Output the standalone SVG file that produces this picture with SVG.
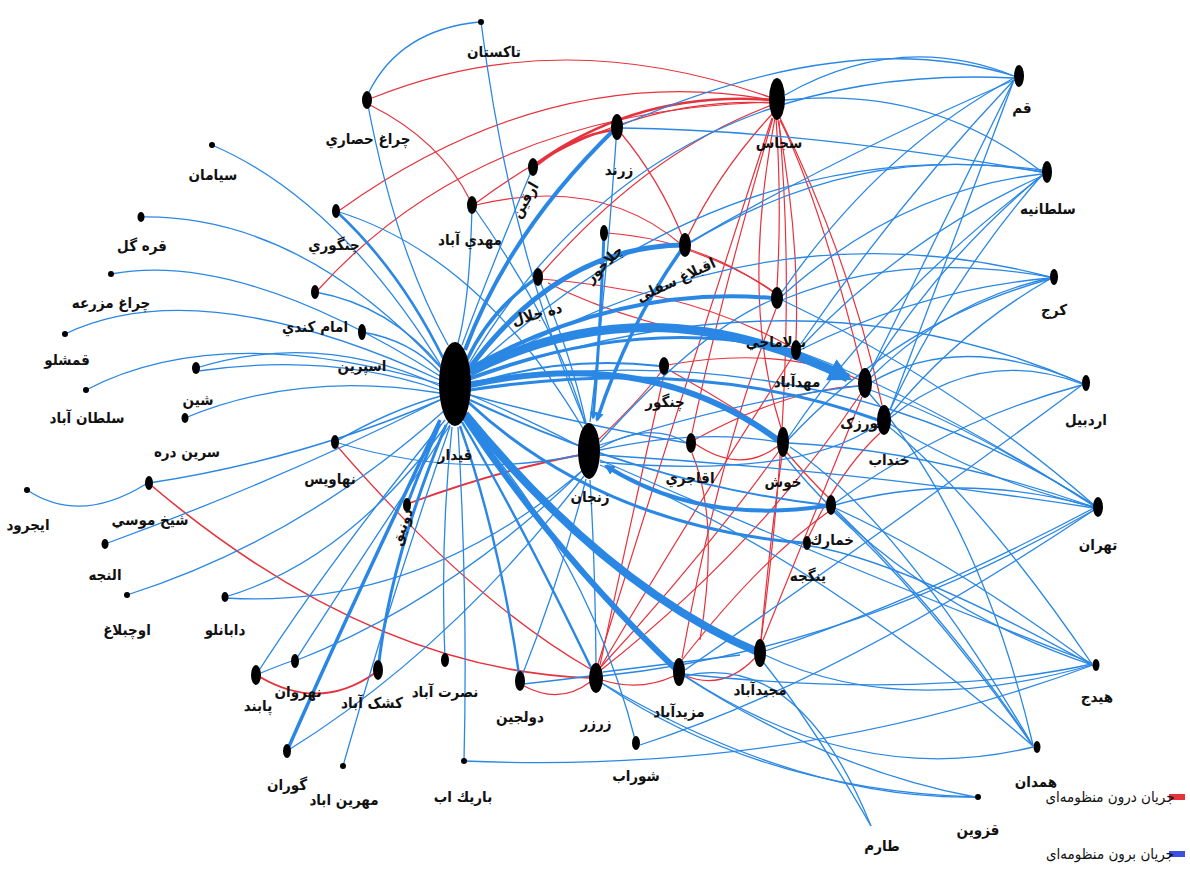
<svg xmlns="http://www.w3.org/2000/svg" width="1190" height="870" viewBox="0 0 1190 870">
<style>
.b{fill:none;stroke:#2a87e4;stroke-width:1.3}
.r{fill:none;stroke:#e6323c;stroke-width:1.2}
.n{fill:#000}
.t{font-family:"DejaVu Sans Condensed","DejaVu Sans",sans-serif;font-weight:bold;font-size:15px;fill:#111;text-anchor:middle}
.lg{font-family:"DejaVu Sans Condensed","DejaVu Sans",sans-serif;font-size:15px;fill:#111;text-anchor:middle}
</style>
<defs>
<marker id="ab" viewBox="0 0 10 10" refX="8" refY="5" markerWidth="2.6" markerHeight="2.6" orient="auto" markerUnits="strokeWidth"><path d="M0,0 L10,5 L0,10 z" fill="#2a87e4"/></marker>
</defs>
<rect width="1190" height="870" fill="#fff"/>
<g id="connectors">
<g id="red-edges">
<path class="r" d="M372,98 Q560,22 772,98"/>
<path class="r" d="M340,210 Q550,60 772,100"/>
<path class="r" d="M318,290 Q480,110 772,102"/>
<path class="r" d="M476,203 Q620,95 772,103"/>
<path class="r" d="M537,163 Q640,90 772,100" style="stroke-width:2.6"/>
<path class="r" d="M537,165 Q575,135 613,130" style="stroke-width:2.4"/>
<path class="r" d="M542,273 Q650,150 772,105"/>
<path class="r" d="M370,105 Q440,140 470,200"/>
<path class="r" d="M476,205 Q600,175 682,245"/>
<path class="r" d="M620,132 Q660,180 683,238"/>
<path class="r" d="M774,112 Q720,170 688,236"/>
<path class="r" d="M776,118 Q782,200 777,288"/>
<path class="r" d="M778,120 Q800,240 796,340"/>
<path class="r" d="M780,118 Q850,260 882,405"/>
<path class="r" d="M775,118 Q740,300 781,428"/>
<path class="r" d="M772,118 Q680,400 598,664"/>
<path class="r" d="M773,118 Q720,300 692,433"/>
<path class="r" d="M607,233 Q700,240 773,292"/>
<path class="r" d="M688,250 Q740,268 774,292"/>
<path class="r" d="M541,279 Q690,290 793,348"/>
<path class="r" d="M667,365 Q780,345 860,380"/>
<path class="r" d="M694,443 Q740,475 778,446"/>
<path class="r" d="M694,440 Q790,388 860,386"/>
<path class="r" d="M598,440 Q640,400 661,372"/>
<path class="r" d="M410,503 Q500,470 580,455" style="stroke-width:1.8"/>
<path class="r" d="M337,446 Q470,600 592,670"/>
<path class="r" d="M152,486 Q370,670 590,678" style="stroke-width:1.6"/>
<path class="r" d="M260,677 Q320,712 375,673" style="stroke-width:2"/>
<path class="r" d="M524,686 Q560,705 590,682"/>
<path class="r" d="M600,668 Q700,500 793,356"/>
<path class="r" d="M600,668 Q700,560 779,451"/>
<path class="r" d="M601,670 Q760,545 862,392"/>
<path class="r" d="M602,680 Q640,692 674,676"/>
<path class="r" d="M684,675 Q722,692 755,658"/>
<path class="r" d="M761,640 Q770,540 782,456"/>
<path class="r" d="M763,640 Q820,500 862,397"/>
<path class="r" d="M682,660 Q760,560 828,512"/>
<path class="r" d="M808,538 Q840,470 880,433"/>
<path class="r" d="M682,658 Q720,450 776,309"/>
<path class="r" d="M761,640 Q800,350 779,121"/>
<path class="r" d="M862,370 Q820,200 780,120"/>
<path class="r" d="M783,448 Q810,480 829,498"/>
<path class="r" d="M669,370 Q740,410 778,438"/>
<path class="r" d="M548,283 Q640,330 790,350"/>
<path class="r" d="M600,665 Q640,480 664,375"/>
<path class="r" d="M700,640 Q720,520 692,453"/>
</g>
<g id="blue-edges">
<path class="b" d="M212,145 Q340,200 445,372"/>
<path class="b" d="M141,217 Q300,215 441,368"/>
<path class="b" d="M111,274 Q240,250 440,376"/>
<path class="b" d="M65,334 Q200,270 440,380"/>
<path class="b" d="M86,390 Q220,320 440,384"/>
<path class="b" d="M196,368 Q320,330 440,386"/>
<path class="b" d="M198,371 Q330,352 440,390"/>
<path class="b" d="M185,418 Q300,370 440,393"/>
<path class="b" d="M315,292 Q390,305 442,368"/>
<path class="b" d="M362,332 Q410,340 440,372"/>
<path class="b" d="M336,211 Q400,270 444,360" style="stroke-width:2.6"/>
<path class="b" d="M336,211 Q480,255 584,430"/>
<path class="b" d="M367,100 Q395,250 448,345"/>
<path class="b" d="M481,22 Q510,250 586,424"/>
<path class="b" d="M479,22 Q400,30 369,92"/>
<path class="b" d="M105,544 Q280,480 440,400"/>
<path class="b" d="M127,595 Q300,540 445,410"/>
<path class="b" d="M225,597 Q350,560 450,420"/>
<path class="b" d="M225,598 Q420,610 583,470"/>
<path class="b" d="M27,490 Q80,525 146,484"/>
<path class="b" d="M149,483 Q300,460 440,400" style="stroke-width:1.6"/>
<path class="b" d="M335,442 Q390,410 441,396"/>
<path class="b" d="M335,442 Q460,480 580,455"/>
<path class="b" d="M256,675 Q330,560 445,420"/>
<path class="b" d="M256,675 Q280,665 292,661"/>
<path class="b" d="M295,661 Q360,560 450,425"/>
<path class="b" d="M295,661 Q450,600 583,470"/>
<path class="b" d="M378,670 Q390,560 446,425" style="stroke-width:3"/>
<path class="b" d="M287,751 Q340,630 440,420" style="stroke-width:3.5"/>
<path class="b" d="M287,751 Q450,650 584,476"/>
<path class="b" d="M343,766 Q390,600 450,426"/>
<path class="b" d="M445,660 Q440,540 452,427"/>
<path class="b" d="M464,761 Q468,600 458,427"/>
<path class="b" d="M464,761 Q800,775 1093,665"/>
<path class="b" d="M520,681 Q500,540 460,426" style="stroke-width:2.4"/>
<path class="b" d="M520,681 Q560,580 586,479"/>
<path class="b" d="M596,678 Q520,520 462,422" style="stroke-width:2.4"/>
<path class="b" d="M596,664 Q595,560 590,480"/>
<path class="b" d="M636,743 Q590,560 465,420"/>
<path class="b" d="M679,672 Q560,560 465,418" style="stroke-width:6"/>
<path class="b" d="M760,653 Q610,590 465,414" style="stroke-width:8"/>
<path class="b" d="M523,684 Q560,680 590,676"/>
<path class="b" d="M603,672 Q660,665 740,655"/>
<path class="b" d="M603,684 Q760,790 975,797"/>
<path class="b" d="M472,205 Q470,300 458,343"/>
<path class="b" d="M533,167 Q490,270 462,345"/>
<path class="b" d="M617,127 Q510,230 465,350" style="stroke-width:4"/>
<path class="b" d="M604,233 Q600,340 593,418" style="stroke-width:3" marker-end="url(#ab)"/>
<path class="b" d="M617,127 Q605,300 590,422"/>
<path class="b" d="M538,277 Q490,310 467,360" style="stroke-width:3.5"/>
<path class="b" d="M685,245 Q560,245 468,370" style="stroke-width:5"/>
<path class="b" d="M685,245 Q630,320 597,420" style="stroke-width:3.5" marker-end="url(#ab)"/>
<path class="b" d="M538,277 Q570,350 586,423"/>
<path class="b" d="M472,205 Q560,330 585,424"/>
<path class="b" d="M470,372 Q650,280 848,378" style="stroke-width:9" marker-end="url(#ab)"/>
<path class="b" d="M470,368 Q620,285 772,298" style="stroke-width:4"/>
<path class="b" d="M470,378 Q640,315 792,350" style="stroke-width:3"/>
<path class="b" d="M470,385 Q650,345 778,440" style="stroke-width:6"/>
<path class="b" d="M470,385 Q560,355 660,366" style="stroke-width:2"/>
<path class="b" d="M470,390 Q700,355 878,420" style="stroke-width:3"/>
<path class="b" d="M470,395 Q580,425 687,443" style="stroke-width:1.5"/>
<path class="b" d="M470,395 Q530,420 579,446"/>
<path class="b" d="M470,400 Q650,485 826,505" style="stroke-width:2"/>
<path class="b" d="M826,506 Q700,525 606,466" style="stroke-width:4" marker-end="url(#ab)"/>
<path class="b" d="M803,543 Q600,525 468,402" style="stroke-width:3"/>
<path class="b" d="M407,505 Q420,470 440,424" style="stroke-width:3"/>
<path class="b" d="M470,380 Q800,260 1082,383"/>
<path class="b" d="M470,382 Q820,330 1094,505"/>
<path class="b" d="M470,376 Q760,200 1050,277"/>
<path class="b" d="M470,372 Q730,130 1042,170"/>
<path class="b" d="M468,365 Q650,60 1014,78"/>
<path class="b" d="M600,445 Q740,400 858,386"/>
<path class="b" d="M600,455 Q850,470 1094,508"/>
<path class="b" d="M600,460 Q850,570 1092,663"/>
<path class="b" d="M600,450 Q700,428 777,442"/>
<path class="b" d="M600,448 Q650,420 687,443"/>
<path class="b" d="M600,442 Q700,330 772,300"/>
<path class="b" d="M600,462 Q800,480 878,424"/>
<path class="b" d="M600,465 Q820,560 1033,746"/>
<path class="b" d="M1014,76 Q900,30 785,95"/>
<path class="b" d="M1014,76 Q850,25 622,125"/>
<path class="b" d="M1014,80 Q950,250 890,410"/>
<path class="b" d="M1014,80 Q940,230 870,372"/>
<path class="b" d="M1014,80 Q900,200 800,345"/>
<path class="b" d="M1014,78 Q880,150 782,292"/>
<path class="b" d="M1014,80 Q830,160 690,242"/>
<path class="b" d="M785,100 Q930,85 1042,172"/>
<path class="b" d="M1042,172 Q860,140 690,243"/>
<path class="b" d="M1042,174 Q900,190 782,296"/>
<path class="b" d="M1042,175 Q950,280 890,410"/>
<path class="b" d="M1042,175 Q940,260 870,372"/>
<path class="b" d="M1042,176 Q900,240 800,348"/>
<path class="b" d="M1042,176 Q880,300 788,438"/>
<path class="b" d="M1042,172 Q800,130 622,128"/>
<path class="b" d="M1050,277 Q900,250 782,300"/>
<path class="b" d="M1050,278 Q950,300 870,378"/>
<path class="b" d="M1050,279 Q960,330 890,415"/>
<path class="b" d="M1050,279 Q900,320 788,440"/>
<path class="b" d="M1050,278 Q920,290 800,350"/>
<path class="b" d="M1082,383 Q960,330 870,383"/>
<path class="b" d="M1082,384 Q980,345 890,418"/>
<path class="b" d="M1082,385 Q950,420 835,503"/>
<path class="b" d="M1082,385 Q900,520 685,670"/>
<path class="b" d="M1094,506 Q960,420 870,390"/>
<path class="b" d="M1094,507 Q980,480 890,424"/>
<path class="b" d="M1094,507 Q960,470 835,505"/>
<path class="b" d="M1094,505 Q950,380 782,300"/>
<path class="b" d="M1094,506 Q930,400 800,352"/>
<path class="b" d="M1094,507 Q930,450 788,443"/>
<path class="b" d="M1094,508 Q920,600 765,651"/>
<path class="b" d="M1094,510 Q850,650 602,676"/>
<path class="b" d="M1092,665 Q950,560 835,508"/>
<path class="b" d="M1092,665 Q900,720 765,655"/>
<path class="b" d="M1092,664 Q980,500 888,426"/>
<path class="b" d="M1092,664 Q930,700 683,674"/>
<path class="b" d="M1033,746 Q930,600 833,511"/>
<path class="b" d="M1033,747 Q860,790 685,676"/>
<path class="b" d="M1033,745 Q980,520 868,392"/>
<path class="b" d="M1033,746 Q900,520 790,447"/>
<path class="b" d="M975,797 Q800,800 600,682"/>
<path class="b" d="M975,797 Q830,770 684,676"/>
<path class="b" d="M871,826 Q810,720 763,662"/>
<path class="b" d="M871,826 Q800,650 684,676"/>
<path class="b" d="M836,510 Q950,620 1033,746"/>
<path class="b" d="M784,455 Q900,600 1092,665"/>
<path class="b" d="M810,546 Q900,560 1092,665"/>
<path class="b" d="M640,745 Q840,680 1094,510"/>
</g>
</g>
<g id="n-gheydar"><ellipse class="n" cx="455" cy="384" rx="16" ry="42"/><text class="t" x="455" y="460">قیدار</text></g>
<g id="n-zanjan"><ellipse class="n" cx="589" cy="451" rx="11" ry="28"/><text class="t" x="590" y="502">زنجان</text></g>
<g id="n-sojas"><ellipse class="n" cx="777" cy="99" rx="8" ry="21"/><text class="t" x="779" y="148">سجاس</text></g>
<g id="n-takestan"><circle class="n" cx="481" cy="22" r="3"/><text class="t" x="494" y="57">تاکستان</text></g>
<g id="n-cheraghhesari"><ellipse class="n" cx="367" cy="100" rx="5" ry="9"/><text class="t" x="368" y="144">چراغ حصاري</text></g>
<g id="n-siaman"><circle class="n" cx="212" cy="145" r="3"/><text class="t" x="213" y="180">سیامان</text></g>
<g id="n-gharegol"><ellipse class="n" cx="141" cy="217" rx="3.5" ry="5"/><text class="t" x="142" y="251">قره گل</text></g>
<g id="n-cheraghmazrae"><circle class="n" cx="111" cy="274" r="3"/><text class="t" x="111" y="308">چراغ مزرعه</text></g>
<g id="n-ghameshlu"><circle class="n" cx="65" cy="334" r="3"/><text class="t" x="67" y="365">قمشلو</text></g>
<g id="n-soltanabad"><circle class="n" cx="86" cy="390" r="3"/><text class="t" x="87" y="423">سلطان آباد</text></g>
<g id="n-shin"><ellipse class="n" cx="196" cy="368" rx="4" ry="6"/><text class="t" x="198" y="405">شین</text></g>
<g id="n-sarindare"><ellipse class="n" cx="185" cy="418" rx="3.5" ry="5"/><text class="t" x="187" y="457">سرين دره</text></g>
<g id="n-changuri"><ellipse class="n" cx="336" cy="211" rx="4" ry="7"/><text class="t" x="334" y="250">چنگوري</text></g>
<g id="n-emamkandi"><ellipse class="n" cx="315" cy="292" rx="4" ry="7"/><text class="t" x="315" y="332">امام كندي</text></g>
<g id="n-esperin"><ellipse class="n" cx="362" cy="332" rx="4" ry="8"/><text class="t" x="362" y="371">اسپرین</text></g>
<g id="n-mahdiabad"><ellipse class="n" cx="472" cy="205" rx="5" ry="9"/><text class="t" x="470" y="245">مهدي آباد</text></g>
<g id="n-arghin"><ellipse class="n" cx="533" cy="167" rx="5" ry="9"/><text class="t" transform="translate(525,200) rotate(-60)" y="5">ارقین</text></g>
<g id="n-zarand"><ellipse class="n" cx="617" cy="127" rx="6" ry="13"/><text class="t" x="619" y="175">زرند</text></g>
<g id="n-chalakhur"><ellipse class="n" cx="604" cy="233" rx="4" ry="8"/><text class="t" transform="translate(604,264) rotate(-45)" y="5">چلاخور</text></g>
<g id="n-aghbolagh"><ellipse class="n" cx="685" cy="245" rx="6" ry="12"/><text class="t" transform="translate(676,280) rotate(-25)" y="5">اقبلاغ سفلی</text></g>
<g id="n-dehjalal"><ellipse class="n" cx="538" cy="277" rx="5" ry="9"/><text class="t" transform="translate(537,314) rotate(-15)" y="5">ده جلال</text></g>
<g id="n-bolamaji"><ellipse class="n" cx="777" cy="298" rx="6" ry="11"/><text class="t" x="776" y="347">بولاماجي</text></g>
<g id="n-mohdabad"><ellipse class="n" cx="796" cy="350" rx="5" ry="10"/><text class="t" x="797" y="387">مهدآباد</text></g>
<g id="n-chavarzak"><ellipse class="n" cx="865" cy="383" rx="7" ry="15"/><text class="t" x="864" y="428">چورزک</text></g>
<g id="n-khandab"><ellipse class="n" cx="884" cy="420" rx="7" ry="15"/><text class="t" x="889" y="465">خنداب</text></g>
<g id="n-changur"><ellipse class="n" cx="664" cy="366" rx="5" ry="9"/><text class="t" x="665" y="407">چنگور</text></g>
<g id="n-aghajari"><ellipse class="n" cx="691" cy="443" rx="5" ry="10"/><text class="t" x="690" y="483">اقاجري</text></g>
<g id="n-khosh"><ellipse class="n" cx="783" cy="442" rx="6" ry="15"/><text class="t" x="783" y="487">خوش</text></g>
<g id="n-khomarak"><ellipse class="n" cx="831" cy="505" rx="5" ry="10"/><text class="t" x="832" y="545">خمارك</text></g>
<g id="n-yengjeh"><ellipse class="n" cx="807" cy="543" rx="4" ry="7"/><text class="t" x="808" y="581">ینگجه</text></g>
<g id="n-nahavis"><ellipse class="n" cx="335" cy="442" rx="4" ry="7"/><text class="t" x="330" y="484">نهاويس</text></g>
<g id="n-sheikhmusa"><ellipse class="n" cx="149" cy="483" rx="4" ry="7"/><text class="t" x="150" y="525">شیخ موسي</text></g>
<g id="n-ijrud"><circle class="n" cx="27" cy="490" r="3"/><text class="t" x="28" y="530">ایجرود</text></g>
<g id="n-alanjeh"><ellipse class="n" cx="105" cy="544" rx="3.5" ry="5"/><text class="t" x="105" y="580">النجه</text></g>
<g id="n-uchbolagh"><circle class="n" cx="127" cy="595" r="3"/><text class="t" x="127" y="635">اوچبلاغ</text></g>
<g id="n-dabanlu"><ellipse class="n" cx="225" cy="597" rx="3.5" ry="5"/><text class="t" x="225" y="635">دابانلو</text></g>
<g id="n-dunigh"><ellipse class="n" cx="407" cy="505" rx="4" ry="7"/><text class="t" transform="translate(402,527) rotate(-70)" y="5">دونيق</text></g>
<g id="n-paband"><ellipse class="n" cx="256" cy="675" rx="5" ry="10"/><text class="t" x="258" y="711">پابند</text></g>
<g id="n-nahravan"><ellipse class="n" cx="295" cy="661" rx="4" ry="7"/><text class="t" x="298" y="697">نهروان</text></g>
<g id="n-kashkabad"><ellipse class="n" cx="378" cy="670" rx="5" ry="10"/><text class="t" x="372" y="708">کشک آباد</text></g>
<g id="n-goran"><ellipse class="n" cx="287" cy="751" rx="4" ry="7"/><text class="t" x="287" y="790">گوران</text></g>
<g id="n-mehrinabad"><circle class="n" cx="343" cy="766" r="3"/><text class="t" x="344" y="805">مهرین اباد</text></g>
<g id="n-nosratabad"><ellipse class="n" cx="445" cy="660" rx="4" ry="7"/><text class="t" x="445" y="697">نصرت آباد</text></g>
<g id="n-barikab"><circle class="n" cx="464" cy="761" r="3"/><text class="t" x="463" y="802">باريك اب</text></g>
<g id="n-dolajin"><ellipse class="n" cx="520" cy="681" rx="5" ry="10"/><text class="t" x="520" y="722">دولجين</text></g>
<g id="n-zarzar"><ellipse class="n" cx="596" cy="678" rx="7" ry="15"/><text class="t" x="596" y="728">زرزر</text></g>
<g id="n-shurab"><ellipse class="n" cx="636" cy="743" rx="4" ry="7"/><text class="t" x="636" y="781">شوراب</text></g>
<g id="n-mazidabad"><ellipse class="n" cx="679" cy="672" rx="6" ry="14"/><text class="t" x="679" y="717">مزيدآباد</text></g>
<g id="n-majidabad"><ellipse class="n" cx="760" cy="653" rx="6" ry="14"/><text class="t" x="760" y="695">مجیدآباد</text></g>
<g id="n-qom"><ellipse class="n" cx="1019" cy="76" rx="5" ry="11"/><text class="t" x="1022" y="113">قم</text></g>
<g id="n-soltanieh"><ellipse class="n" cx="1047" cy="172" rx="5" ry="11"/><text class="t" x="1048" y="214">سلطانیه</text></g>
<g id="n-karaj"><ellipse class="n" cx="1054" cy="277" rx="4" ry="8"/><text class="t" x="1054" y="315">کرج</text></g>
<g id="n-ardabil"><ellipse class="n" cx="1086" cy="383" rx="4" ry="8"/><text class="t" x="1086" y="425">اردبیل</text></g>
<g id="n-tehran"><ellipse class="n" cx="1098" cy="507" rx="5" ry="10"/><text class="t" x="1098" y="550">تهران</text></g>
<g id="n-hidaj"><ellipse class="n" cx="1096" cy="665" rx="3.5" ry="6"/><text class="t" x="1097" y="702">هیدج</text></g>
<g id="n-hamedan"><ellipse class="n" cx="1037" cy="747" rx="3.5" ry="6"/><text class="t" x="1036" y="787">همدان</text></g>
<g id="n-qazvin"><circle class="n" cx="978" cy="797" r="3"/><text class="t" x="978" y="835">قزوین</text></g>
<g id="n-tarom"><text class="t" x="882" y="851">طارم</text></g>
<g id="legend">
<rect x="1169" y="794" width="16" height="6" fill="#e6323c"/>
<text class="lg" x="1110" y="802">جریان درون منظومه‌ای</text>
<rect x="1169" y="851" width="16" height="6" fill="#3b4fe0"/>
<text class="lg" x="1110" y="859">جریان برون منظومه‌ای</text>
</g>
</svg>
